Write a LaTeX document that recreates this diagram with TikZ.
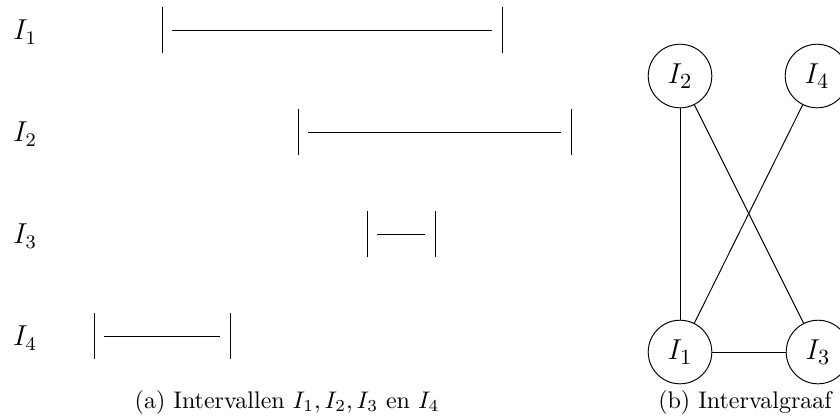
\documentclass[tikz,border=0pt]{standalone}
\usepackage{amsmath}
\usetikzlibrary{positioning}

\begin{document}
\begin{tikzpicture}[
    x=0.4167pt, y=-0.4167pt,
    vertex/.style={circle, draw, minimum size=26.5pt, inner sep=0pt, font=\fontsize{13}{15}\selectfont},
    bar/.style={line width=0.4pt},
    span/.style={line width=0.4pt},
    lab/.style={font=\large}
]
\useasboundingbox (0,0) rectangle (840,419);

% Intervals
\foreach \i/\a/\b/\y in {1/162/502/30, 2/298/571/132, 3/367/435/234, 4/94/230/336} {
    \node[lab] (lab\i) at (25,\y+2) {$I_\i$};
    \coordinate (l\i) at (\a,\y);
    \coordinate (r\i) at (\b,\y);
    \draw[bar] (\a,\y-23) -- (\a,\y+23);
    \draw[bar] (\b,\y-23) -- (\b,\y+23);
    \draw[span] ([xshift=4.2pt]l\i) -- ([xshift=-4.2pt]r\i);
}

% Interval graph
\node[vertex] (v2) at (680,76) {$I_2$};
\node[vertex] (v4) at (817,76) {$I_4$};
\node[vertex] (v1) at (680,352) {$I_1$};
\node[vertex] (v3) at (818,352) {$I_3$};

\draw (v2) -- (v1);
\draw (v2) -- (v3);
\draw (v4) -- (v1);
\draw (v1) -- (v3);

% Captions
\node (capa) at (287,402) {(a) Intervallen $I_1, I_2, I_3$ en $I_4$};
\node (capb) at (745,402) {(b) Intervalgraaf};

\end{tikzpicture}
\end{document}
